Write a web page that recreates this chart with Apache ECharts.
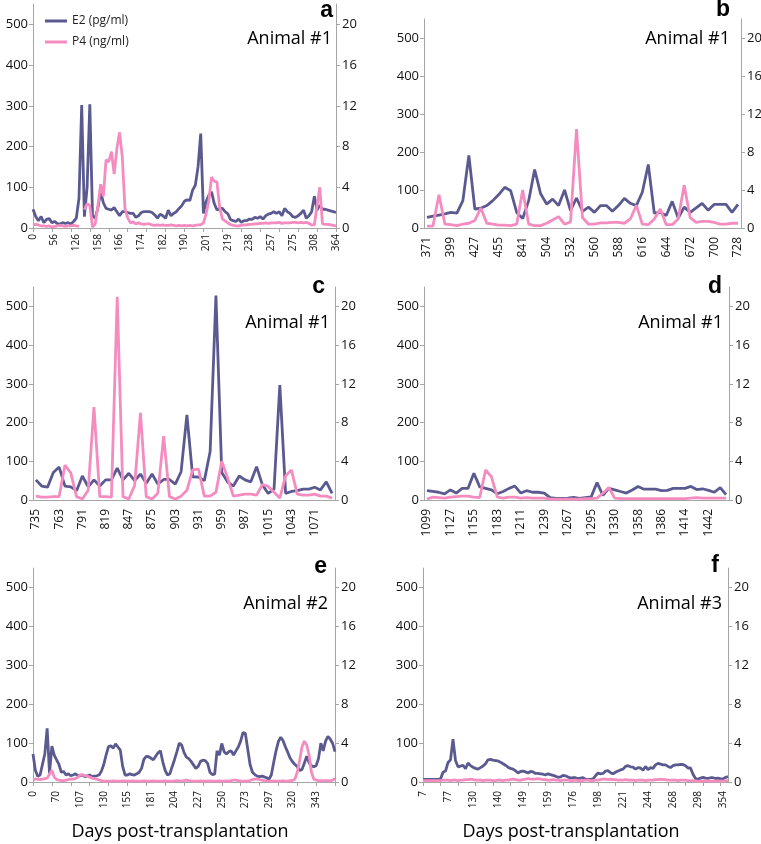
<!DOCTYPE html>
<html><head><meta charset="utf-8">
<script src="https://cdn.jsdelivr.net/npm/echarts@6.0.0/dist/echarts.min.js"></script>
<style>html,body{margin:0;padding:0;background:#fff}#c{width:761px;height:844px}</style>
</head><body><div id="c"></div>
<script>
// Tick values of the two y axes
const e2Ticks = [0, 100, 200, 300, 400, 500];
const p4Ticks = [0, 4, 8, 12, 16, 20];

// Panel a
const ticksA = ['0','56','126','158','166','174','182','190','201','219','238','257','275','308','364'];
const e2A = [46,28,18,28,13,21,23,13,16,11, 10,13,11,13,10,16,24,73,302,28,
 100,304,30,24,50,89,62,48,46,44, 50,40,30,40,40,38,36,36,26,30,
 38,40,40,40,38,32,24,34,30,24, 44,30,36,40,48,55,66,69,68,93,
 105,150,232,36,65,80,89,60,44,48, 48,40,35,21,18,16,22,14,18,18,
 22,21,26,24,28,22,30,34,36,40, 36,40,30,48,40,36,28,26,30,36,
 44,24,30,40,78,44,56,46,46,44, 42,40,38];
const p4A = [0.3,0.35,0.3,0.2,0.2,0.15,0.2,0.1,0.15,0.2, 0.25,0.2,0.15,0.2,0.2,0.25,0.2,0.15,null,1.8,
 2.4,2.2,0.1,0.4,2.2,4.3,3.1,6.7,6.5,7.5, 5.3,7.8,9.4,7.0,1.9,1.0,0.5,0.6,0.4,0.5,
 0.4,0.35,0.4,0.4,0.3,0.25,0.3,0.25,0.3,0.25, 0.25,0.3,0.25,0.2,0.25,0.2,0.25,0.2,0.25,0.2,
 0.25,0.3,0.3,0.5,1.4,2.7,5.0,4.6,4.5,2.0, 0.9,0.7,0.5,0.35,0.25,0.2,0.2,0.25,0.3,0.3,
 0.35,0.35,0.4,0.4,0.45,0.45,0.5,0.45,0.5,0.5, 0.5,0.55,0.45,0.5,0.5,0.5,0.55,0.55,0.5,0.55,
 0.5,0.55,0.45,0.3,0.3,2.2,4.0,0.4,0.35,0.35, 0.3,0.25,0.2];

// Panel b
const ticksB = ['371','399','427','455','841','504','532','560','588','616','644','672','700','728'];
const e2B = [28,31,34,37,41,39,72,191,50,52, 59,72,88,107,98,41,25,72,154,90,
 63,76,59,100,46,79,44,55,41,59, 59,44,59,78,65,59,94,167,39,41,
 33,70,26,55,41,53,65,47,62,62, 62,41,62];
const p4B = [0.2,0.2,3.5,0.4,0.35,0.25,0.4,0.5,0.8,2.1, 0.5,0.4,0.3,0.3,0.25,0.4,4.0,0.4,0.25,0.25,
 0.5,0.85,1.2,0.4,0.65,10.4,1.1,0.4,0.4,0.55, 0.55,0.6,0.6,0.5,0.95,2.4,0.4,0.35,0.95,2.0,
 0.35,0.35,0.95,4.5,1.1,0.6,0.7,0.7,0.6,0.4, 0.4,0.5,0.5];

// Panel c
const ticksC = ['735','763','791','819','847','875','903','931','959','987','1015','1043','1071'];
const e2C = [52,36,33,71,85,36,34,24,62,34, 52,36,52,52,82,52,69,50,67,43,
 67,41,53,53,41,73,220,60,59,50, 125,528,71,47,36,62,52,47,86,39,
 17,28,297,17,22,24,28,28,33,26, 47,17];
const p4C = [0.4,0.3,0.3,0.35,0.35,3.6,2.8,0.35,0.1,1.0, 9.6,0.35,0.35,0.3,21.0,0.35,0.1,1.5,9.0,0.35,
 0.1,0.7,6.6,0.35,0.1,0.4,1.0,3.1,3.2,0.4, 0.4,0.8,4.0,2.3,0.4,0.5,0.6,0.6,0.5,1.6,
 1.4,0.8,0.2,2.5,3.1,0.6,0.5,0.5,0.6,0.4, 0.4,0.2];

// Panel d
const ticksD = ['1099','1127','1155','1183','1211','1239','1267','1295','1330','1358','1386','1414','1442'];
const e2D = [24,22,20,16,26,18,30,30,69,34, 30,26,16,22,30,36,18,24,20,20,
 18,6,4,4,5,7,4,6,8,45, 12,30,26,22,18,26,35,28,28,28,
 24,25,30,30,30,35,27,29,25,20, 32,14];
const p4D = [0.1,0.3,0.25,0.2,0.3,0.35,0.4,0.4,0.3,0.25, 3.1,2.4,0.3,0.2,0.3,0.3,0.2,0.25,0.2,0.2,
 0.2,0.1,0.1,0.1,0.1,0.1,0.1,0.15,0.15,0.2, 0.7,1.3,0.2,0.15,0.15,0.15,0.15,0.15,0.15,0.15,
 0.15,0.15,0.15,0.15,0.15,0.2,0.25,0.2,0.2,0.2, 0.2,0.2];

// Panel e
const ticksE = ['0','70','107','130','155','181','204','227','250','273','297','320','343'];
const e2E = [72,30,15,18,45,72,138,22,92,69, 57,45,25,27,18,21,16,18,21,16,
 16,18,14,16,18,14,15,16,18,28, 45,70,91,93,87,98,90,82,40,18,
 18,21,19,18,21,25,35,58,66,65, 61,57,66,75,80,52,30,18,21,40,
 58,78,100,95,76,64,60,53,44,35, 40,53,56,55,48,25,19,20,80,69,
 99,78,72,78,80,69,80,90,105,127, 125,85,45,25,19,15,14,15,13,11,
 7,18,50,80,104,115,106,90,76,61, 52,45,40,30,32,48,66,50,42,39,
 42,60,100,80,105,117,110,99,78];
const p4E = [0.25,0.3,0.3,0.25,0.3,0.35,0.4,0.8,1.2,0.5, 0.25,0.2,0.15,0.15,0.2,0.25,0.3,0.3,0.35,0.5,
 0.7,0.75,0.65,0.6,0.5,0.4,0.35,0.3,0.2,0.15, 0.1,0.1,0.1,0.1,0.12,0.1,0.1,0.1,0.12,0.1,
 0.1,0.1,0.12,0.1,0.1,0.1,0.1,0.12,0.1,0.1, 0.1,0.12,0.1,0.1,0.1,0.1,0.12,0.1,0.1,0.1,
 0.12,0.15,0.12,0.1,0.15,0.2,0.15,0.12,0.1,0.1, 0.1,0.12,0.1,0.1,0.1,0.12,0.1,0.1,0.1,0.12,
 0.1,0.1,0.12,0.1,0.15,0.2,0.2,0.15,0.12,0.1, 0.1,0.12,0.15,0.25,0.3,0.3,0.25,0.2,0.15,0.12,
 0.1,0.1,0.12,0.1,0.1,0.1,0.12,0.1,0.1,0.15, 0.15,0.3,1.0,2.2,3.6,4.2,3.8,2.8,1.0,0.3,
 0.2,0.15,0.15,0.12,0.15,0.15,0.12,0.2,0.35];

// Panel f
const ticksF = ['7','77','130','140','149','159','176','198','221','244','268','298','354'];
const e2F = [7,7,7,7,7,7,7,8,25,28, 50,57,110,55,39,41,43,34,49,42,
 38,35,33,37,41,47,57,58,56,55, 54,51,47,43,38,35,33,29,23,27,
 28,26,23,27,26,22,22,21,20,18, 21,19,17,15,12,13,17,16,13,10,
 11,11,8,10,11,7,7,7,8,16, 23,21,22,28,29,24,21,25,28,31,
 33,40,42,39,38,33,37,36,30,40, 32,37,35,44,48,46,44,44,40,37,
 42,44,44,45,45,42,36,36,20,9, 7,10,12,10,9,11,11,9,10,8,
 8,12,14];
const p4F = [0.15,0.15,0.15,0.15,0.15,0.15,0.15,0.15,0.2,0.2, 0.2,0.15,0.2,0.2,0.15,0.2,0.2,0.25,0.25,0.3,
 0.25,0.2,0.2,0.2,0.15,0.2,0.2,0.2,0.15,0.15, 0.2,0.2,0.15,0.2,0.2,0.25,0.3,0.25,0.2,0.2,
 0.25,0.3,0.35,0.3,0.3,0.3,0.35,0.3,0.25,0.25, 0.2,0.2,0.25,0.2,0.2,0.15,0.2,0.2,0.2,0.15,
 0.15,0.2,0.15,0.15,0.15,0.2,0.2,0.15,0.15,0.2, 0.2,0.25,0.3,0.3,0.25,0.3,0.25,0.25,0.2,0.2,
 0.2,0.25,0.2,0.2,0.2,0.15,0.2,0.2,0.2,0.15, 0.2,0.2,0.2,0.25,0.25,0.3,0.25,0.25,0.2,0.2,
 0.2,0.2,0.15,0.2,0.2,0.2,0.15,0.15,0.15,0.1, 0.1,0.1,0.1,0.15,0.1,0.1,0.1,0.1,0.1,0.1,
 0.1,0.15,0.15];

const E2_NAME = 'E2 (pg/ml)';
const P4_NAME = 'P4 (ng/ml)';
const E2_COLOR = '#5b5a90';
const P4_COLOR = '#f48cc0';
const AXIS_COLOR = '#a6a6a6';
const TEXT = '#111';
const FONT = 'Open Sans';
const LINE_W = 2.8;

const panels = [
  {ticks: ticksA, e2: e2A, p4: p4A, step: 8, tickEvery: 7, gap: false, grid: {left: 33, top: 4, width: 303, height: 224}, fs: 10, margin: 6},
  {ticks: ticksB, e2: e2B, p4: p4B, step: 4, tickEvery: 3, gap: true, grid: {left: 424, top: 19, width: 317, height: 209}, fs: 12, margin: 9},
  {ticks: ticksC, e2: e2C, p4: p4C, step: 4, tickEvery: 4, gap: true, grid: {left: 33, top: 287, width: 302, height: 213}, fs: 12, margin: 9},
  {ticks: ticksD, e2: e2D, p4: p4D, step: 4, tickEvery: 4, gap: true, grid: {left: 424, top: 287, width: 305, height: 213}, fs: 12, margin: 9},
  {ticks: ticksE, e2: e2E, p4: p4E, step: 10, tickEvery: 8, gap: false, grid: {left: 33, top: 568, width: 302, height: 214}, fs: 10, margin: 9},
  {ticks: ticksF, e2: e2F, p4: p4F, step: 10, tickEvery: 7, gap: false, grid: {left: 423, top: 568, width: 305, height: 214}, fs: 10, margin: 9}
];

const grids = [], xAxes = [], yAxes = [], series = [];
panels.forEach((p, k) => {
  grids.push(Object.assign({containLabel: false, outerBoundsMode: 'none'}, p.grid));
  const cats = p.e2.map((_, i) => String(i));
  xAxes.push({
    type: 'category', gridIndex: k, data: cats, boundaryGap: p.gap,
    axisLine: {lineStyle: {color: AXIS_COLOR, width: 1}},
    axisTick: {interval: p.tickEvery - 1, length: 4, lineStyle: {color: AXIS_COLOR}},
    axisLabel: {
      interval: p.step - 1, rotate: 90, fontSize: p.fs, margin: p.margin, color: TEXT, fontFamily: FONT,
      formatter: (v, i) => (i % p.step === 0 && p.ticks[i / p.step] !== undefined) ? p.ticks[i / p.step] : ''
    },
    splitLine: {show: false}
  });
  yAxes.push({
    type: 'value', gridIndex: k, position: 'left', min: 0, max: 550,
    axisLine: {show: true, lineStyle: {color: AXIS_COLOR}},
    axisTick: {show: true, length: 4, customValues: e2Ticks, lineStyle: {color: AXIS_COLOR}},
    axisLabel: {customValues: e2Ticks, fontSize: 13, margin: 5, color: TEXT, fontFamily: FONT},
    splitLine: {show: false}
  });
  yAxes.push({
    type: 'value', gridIndex: k, position: 'right', min: 0, max: 22,
    axisLine: {show: true, lineStyle: {color: AXIS_COLOR}},
    axisTick: {show: true, length: 4, customValues: p4Ticks, lineStyle: {color: AXIS_COLOR}},
    axisLabel: {customValues: p4Ticks, fontSize: 13, margin: 6, color: TEXT, fontFamily: FONT},
    splitLine: {show: false}
  });
  series.push({
    name: E2_NAME, type: 'line', xAxisIndex: k, yAxisIndex: 2 * k, data: p.e2,
    symbol: 'none', lineStyle: {color: E2_COLOR, width: LINE_W}, itemStyle: {color: E2_COLOR}, z: 2
  });
  series.push({
    name: P4_NAME, type: 'line', xAxisIndex: k, yAxisIndex: 2 * k + 1, data: p.p4,
    symbol: 'none', connectNulls: false, lineStyle: {color: P4_COLOR, width: LINE_W}, itemStyle: {color: P4_COLOR}, z: 3
  });
});

const txt = (x, y, text, font, align) => ({
  type: 'text', x: x, y: y, silent: true,
  style: {text: text, font: font, fill: '#000', align: align || 'right', verticalAlign: 'middle'}
});
const LETTER = 'bold 23px "Liberation Sans"';
const ANIMAL = '18px "Open Sans"';

const chart = echarts.init(document.getElementById('c'), null, {renderer: 'canvas'});
chart.setOption({
  animation: false,
  backgroundColor: '#fff',
  grid: grids, xAxis: xAxes, yAxis: yAxes, series: series,
  legend: {
    data: [{name: E2_NAME, icon: 'rect'}, {name: P4_NAME, icon: 'rect'}],
    orient: 'vertical', left: 45, top: 14,
    itemWidth: 22, itemHeight: 3, itemGap: 7, padding: 0,
    textStyle: {fontSize: 12, lineHeight: 14, fontFamily: FONT, color: '#222'}
  },
  graphic: [
    txt(333, 10.5, 'a', LETTER), txt(730, 9.5, 'b', LETTER),
    txt(325, 286.5, 'c', LETTER), txt(722, 286.5, 'd', LETTER),
    txt(327, 566.5, 'e', LETTER), txt(719, 565.5, 'f', LETTER),
    txt(332, 39, 'Animal #1', ANIMAL), txt(730, 39, 'Animal #1', ANIMAL),
    txt(330, 323, 'Animal #1', ANIMAL), txt(723, 323, 'Animal #1', ANIMAL),
    txt(328, 604, 'Animal #2', ANIMAL), txt(722, 604, 'Animal #3', ANIMAL),
    txt(180, 832, 'Days post-transplantation', ANIMAL, 'center'),
    txt(571, 832, 'Days post-transplantation', ANIMAL, 'center')
  ]
});
</script></body></html>
